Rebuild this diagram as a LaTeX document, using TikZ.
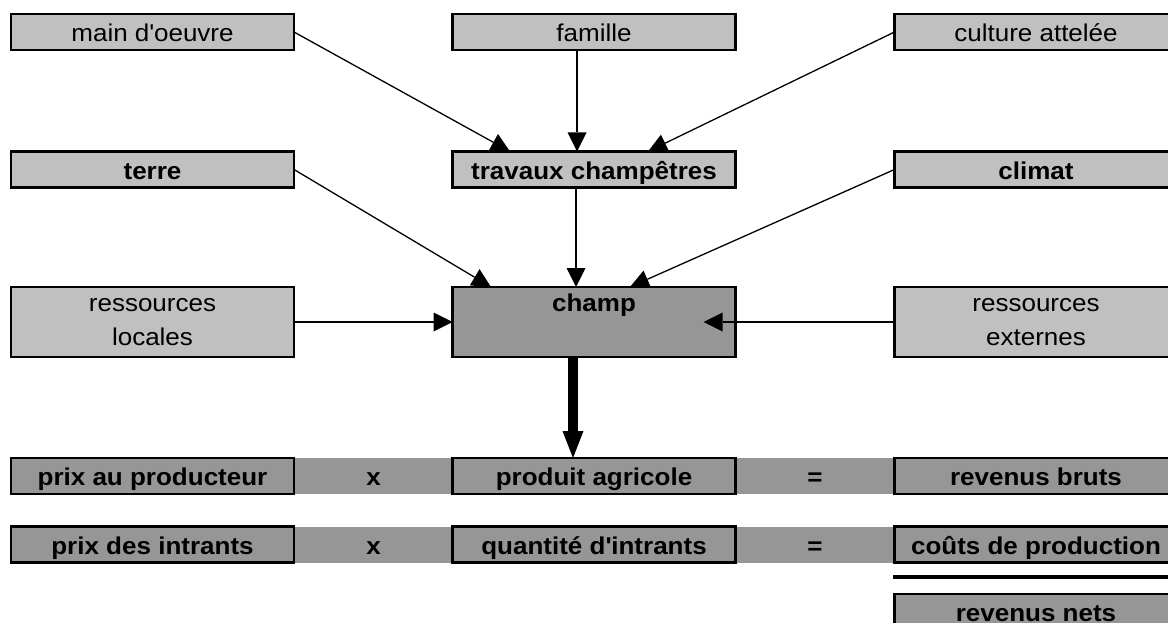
\documentclass[tikz,border=0pt]{standalone}
\usepackage{fontspec}
\setmainfont{Liberation Sans}[FakeStretch=1.07]
\usetikzlibrary{arrows.meta,backgrounds}
\definecolor{lightg}{HTML}{C0C0C0}
\definecolor{darkg}{HTML}{969696}
\begin{document}
\begin{tikzpicture}[x=1pt,y=-1pt,
  txt/.style={font=\fontsize{24.3}{34}\selectfont},
  btxt/.style={font=\fontsize{24.3}{34}\selectfont\bfseries},
  box/.style={draw=black, line width=2.5pt, minimum width=283pt, minimum height=36pt,
    inner sep=0pt, outer sep=0pt, text height=22pt, text depth=3pt},
  lbox/.style={box, fill=lightg, txt},
  lbbox/.style={box, fill=lightg, btxt},
  dbox/.style={box, fill=darkg, btxt},
  tallbox/.style={draw=black, line width=2.5pt, minimum width=283pt, minimum height=70pt,
    inner sep=0pt, outer sep=0pt, align=center},
  band/.style={fill=darkg, minimum width=164pt, minimum height=36pt, inner sep=0pt,
    outer sep=0pt, btxt, text height=22pt, text depth=3pt},
  conn/.style={line width=1.3pt, -{Triangle[length=19pt,width=19pt,line width=0pt]}},
  bigconn/.style={line width=10pt, -{Triangle[length=27pt,width=21pt,line width=0pt]}},
  ]
\useasboundingbox (0,0) rectangle (1168,623);

% bands (behind boxes)
\node[band] (x1) at (373.5,476) {x};
\node[band] (eq1) at (815,476) {=};
\node[band] (x2) at (373.5,544.5) {x};
\node[band] (eq2) at (815,544.5) {=};

% top rows
\node[lbox] (main) at (152.5,32) {main d\textquotesingle oeuvre};
\node[lbox] (famille) at (594,32) {famille};
\node[lbox] (culture) at (1036,32) {culture attelée};
\node[lbbox] (terre) at (152.5,169.5) {terre};
\node[lbbox] (travaux) at (594,169.5) {travaux champêtres};
\node[lbbox] (climat) at (1036,169.5) {climat};

% middle row
\node[tallbox, fill=lightg, txt] (locales) at (152.5,322) {\strut ressources\\\strut locales};
\node[tallbox, fill=darkg, btxt] (champ) at (594,322) {\strut champ\\\strut};
\node[tallbox, fill=lightg, txt] (externes) at (1036,322) {\strut ressources\\\strut externes};

% bottom rows
\node[dbox] (prixprod) at (152.5,476) {prix au producteur};
\node[dbox] (produit) at (594,476) {produit agricole};
\node[dbox] (bruts) at (1036,476) {revenus bruts};
\node[dbox] (prixint) at (152.5,544.5) {prix des intrants};
\node[dbox] (quant) at (594,544.5) {quantité d\textquotesingle intrants};
\node[dbox] (couts) at (1036,544.5) {coûts de production};
\node[dbox, text height=19pt, text depth=0pt] (nets) at (1036,612) {revenus nets};

\coordinate (barL) at (893,577);
\coordinate (barR) at (1180,577);
\draw[line width=3.5pt] (barL) -- (barR);

\begin{pgfonlayer}{background}
\draw[conn] (main.east) -- ([xshift=-84pt]travaux.north);
\draw[conn] ([xshift=-17pt]famille.south) -- ([xshift=-17pt]travaux.north);
\draw[conn] (culture.west) -- ([xshift=54pt]travaux.north);
\draw[conn] (terre.east) -- ([xshift=-103pt]champ.north);
\draw[conn] ([xshift=-18pt]travaux.south) -- ([xshift=-18pt]champ.north);
\draw[conn] (climat.west) -- ([xshift=36pt]champ.north);
\draw[conn] (locales.east) -- (champ.west);
\draw[bigconn] ([xshift=-21pt]champ.south) -- ([xshift=-21pt]produit.north);
\end{pgfonlayer}
\draw[conn] (externes.west) -- ([xshift=-32pt]champ.east);
\end{tikzpicture}
\end{document}
